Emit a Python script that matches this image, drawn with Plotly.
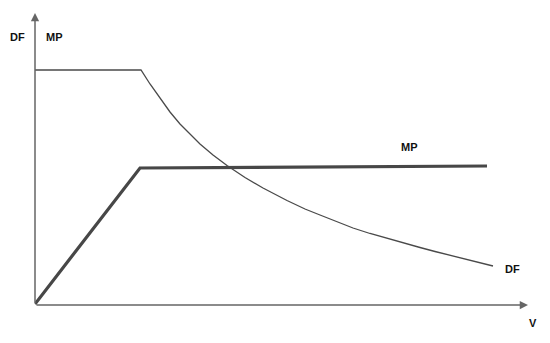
import plotly.graph_objects as go

# DF curve (arbitrary units)
df_v = [0, 106, 115, 125, 135, 145, 155, 165, 178, 192, 210, 228, 252, 270, 285, 300,
        318, 335, 352, 370, 385, 400, 420, 440, 458]
df_y = [235, 235, 221, 206.5, 193, 181, 170.5, 161, 150, 139.5, 127.5, 117, 104.5, 96, 90, 84,
        77, 71.5, 66.5, 61.5, 57.5, 53.5, 48.5, 43.5, 39]

# MP line
mp_v = [0, 105, 452]
mp_y = [1, 137, 139]

labels = ["DF", "MP", "MP", "DF", "V"]
label_x = [-17.5, 19, 374, 477.5, 498]
label_y = [268, 268, 158, 36, -17.5]

X_MAX = 493
Y_MAX = 292

fig = go.Figure()
fig.add_trace(go.Scatter(x=df_v, y=df_y, mode="lines",
                         line=dict(color="#4a4a4a", width=1.3),
                         showlegend=False, hoverinfo="skip"))
fig.add_trace(go.Scatter(x=mp_v, y=mp_y, mode="lines",
                         line=dict(color="#474747", width=3.2),
                         showlegend=False, hoverinfo="skip"))

# axes with arrows
fig.add_annotation(x=0, y=Y_MAX, ax=0, ay=0, xref="x", yref="y", axref="x", ayref="y",
                   showarrow=True, arrowhead=2, arrowsize=1.1, arrowwidth=1.5, arrowcolor="#666", text="")
fig.add_annotation(x=X_MAX, y=0, ax=0, ay=0, xref="x", yref="y", axref="x", ayref="y",
                   showarrow=True, arrowhead=2, arrowsize=1.1, arrowwidth=1.5, arrowcolor="#666", text="")

for t, x, y in zip(labels, label_x, label_y):
    fig.add_annotation(x=x / X_MAX, y=y / Y_MAX, xref="paper", yref="paper",
                       xanchor="center", yanchor="middle",
                       text="<b>%s</b>" % t, showarrow=False,
                       font=dict(family="Liberation Sans, Arial", size=11, color="#111"))

fig.update_xaxes(range=[0, X_MAX], visible=False)
fig.update_yaxes(range=[0, Y_MAX], visible=False)
# page body adds 8px offset, so margins are shifted to compensate
fig.update_layout(width=550, height=343, margin=dict(l=27, r=30, t=5, b=46),
                  plot_bgcolor="white", paper_bgcolor="white")

fig.write_html("out.html")
